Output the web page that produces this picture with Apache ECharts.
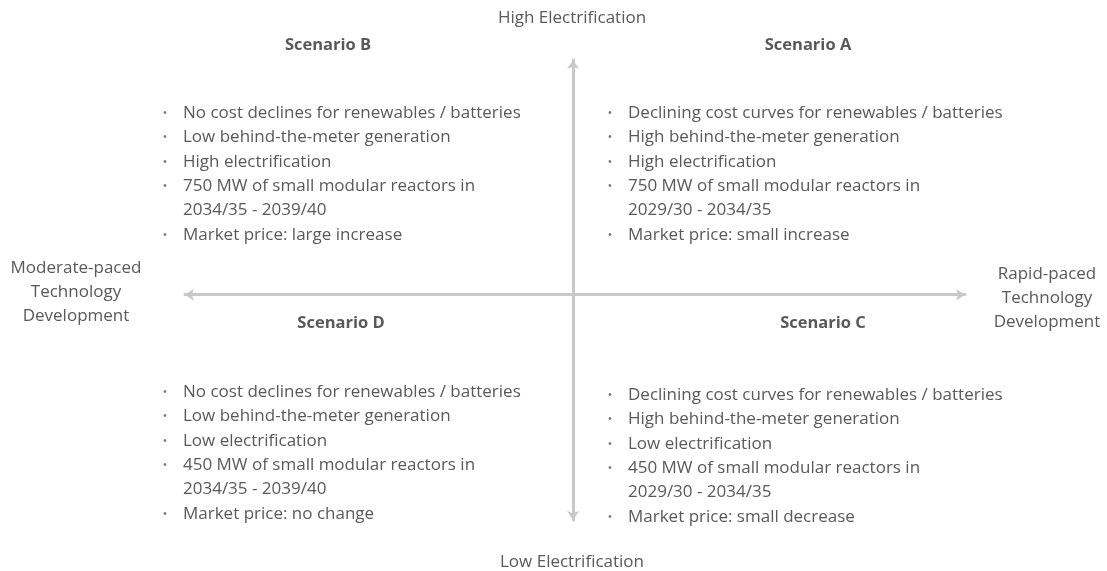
<!DOCTYPE html>
<html>
<head>
<meta charset="utf-8">
<script src="https://cdn.jsdelivr.net/npm/echarts@6/dist/echarts.min.js"></script>
<style>
html, body { margin: 0; padding: 0; background: #fff; }
#chart { width: 1107px; height: 571px; }
</style>
</head>
<body>
<div id="chart"></div>
<script>
// axis end captions
var yAxisEnds = ['Low Electrification', 'High Electrification'];
var xAxisEnds = ['Moderate-paced\nTechnology\nDevelopment', 'Rapid-paced\nTechnology\nDevelopment'];

// quadrants
var scenarioNames = ['Scenario A', 'Scenario B', 'Scenario C', 'Scenario D'];
var bulletsA = [
    'Declining cost curves for renewables / batteries',
    'High behind-the-meter generation',
    'High electrification',
    '750 MW of small modular reactors in\n2029/30 - 2034/35',
    'Market price: small increase'
];
var bulletsB = [
    'No cost declines for renewables / batteries',
    'Low behind-the-meter generation',
    'High electrification',
    '750 MW of small modular reactors in\n2034/35 - 2039/40',
    'Market price: large increase'
];
var bulletsC = [
    'Declining cost curves for renewables / batteries',
    'High behind-the-meter generation',
    'Low electrification',
    '450 MW of small modular reactors in\n2029/30 - 2034/35',
    'Market price: small decrease'
];
var bulletsD = [
    'No cost declines for renewables / batteries',
    'Low behind-the-meter generation',
    'Low electrification',
    '450 MW of small modular reactors in\n2034/35 - 2039/40',
    'Market price: no change'
];

var textColor = '#595959';
var fontFam = '"Open Sans", sans-serif';
var lineH = 24.4;

// where each quadrant block sits (px)
var blocks = [
    { name: scenarioNames[0], list: bulletsA, tx: 808, ty: 45, lx: 610, ly: 113 },
    { name: scenarioNames[1], list: bulletsB, tx: 328, ty: 45, lx: 165, ly: 113 },
    { name: scenarioNames[2], list: bulletsC, tx: 823, ty: 323, lx: 610, ly: 395 },
    { name: scenarioNames[3], list: bulletsD, tx: 341, ty: 323, lx: 165, ly: 392 }
];

var graphics = [];

blocks.forEach(function (b) {
    graphics.push({
        type: 'text', x: b.tx, y: b.ty,
        style: { text: b.name, font: 'bold 16.5px ' + fontFam, fill: textColor, textAlign: 'center', textVerticalAlign: 'middle' }
    });
    var row = 0;
    b.list.forEach(function (item) {
        var lines = item.split('\n');
        graphics.push({
            type: 'text', x: b.lx, y: b.ly + row * lineH,
            style: { text: '\u2022', font: '13px ' + fontFam, fill: '#7a7a7a', textAlign: 'center', textVerticalAlign: 'middle' }
        });
        lines.forEach(function (ln) {
            graphics.push({
                type: 'text', x: b.lx + 18, y: b.ly + row * lineH,
                style: { text: ln, font: '17px ' + fontFam, fill: textColor, textAlign: 'left', textVerticalAlign: 'middle' }
            });
            row++;
        });
    });
});

graphics.push({
    type: 'text', x: 572, y: 18,
    style: { text: yAxisEnds[1], font: '17px ' + fontFam, fill: textColor, textAlign: 'center', textVerticalAlign: 'middle' }
});
graphics.push({
    type: 'text', x: 572, y: 562,
    style: { text: yAxisEnds[0], font: '17px ' + fontFam, fill: textColor, textAlign: 'center', textVerticalAlign: 'middle' }
});
graphics.push({
    type: 'text', x: 76, y: 292,
    style: { text: xAxisEnds[0], font: '17px ' + fontFam, fill: textColor, textAlign: 'center', textVerticalAlign: 'middle', lineHeight: 24 }
});
graphics.push({
    type: 'text', x: 1047, y: 298,
    style: { text: xAxisEnds[1], font: '17px ' + fontFam, fill: textColor, textAlign: 'center', textVerticalAlign: 'middle', lineHeight: 24 }
});

var arrowLine = {
    show: true,
    onZero: true,
    symbol: ['arrow', 'arrow'],
    symbolSize: [9, 9],
    lineStyle: { color: '#c8c8c8', width: 3 }
};

var chart = echarts.init(document.getElementById('chart'));
var option = {
    animation: false,
    grid: { left: 185, right: 142, top: 60, bottom: 51 },
    xAxis: {
        type: 'value', min: -1, max: 1.01,
        axisLine: arrowLine,
        axisTick: { show: false }, axisLabel: { show: false }, splitLine: { show: false }
    },
    yAxis: {
        type: 'value', min: -0.96, max: 1,
        axisLine: arrowLine,
        axisTick: { show: false }, axisLabel: { show: false }, splitLine: { show: false }
    },
    series: [{ type: 'scatter', data: [] }],
    graphic: graphics
};
chart.setOption(option);
</script>
</body>
</html>
